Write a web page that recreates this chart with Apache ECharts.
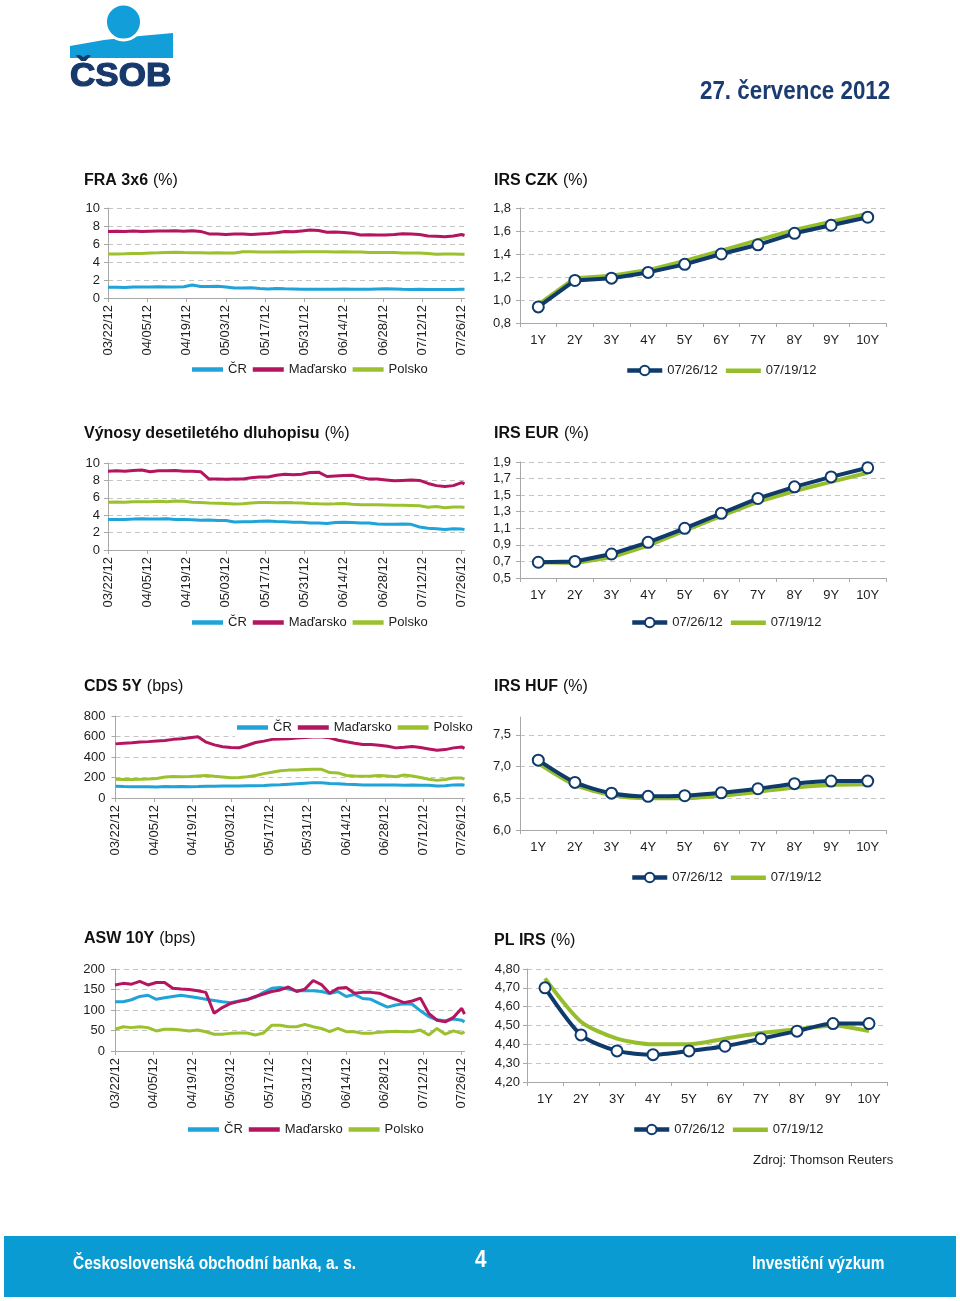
<!DOCTYPE html>
<html><head><meta charset="utf-8">
<script src="https://cdn.jsdelivr.net/npm/echarts@6/dist/echarts.min.js"></script>
<style>html,body{margin:0;padding:0;background:#fff}#c{width:960px;height:1301px}</style>
</head><body><div id="c"></div>
<script>
// ---------- DATA ----------
const dates = ['03/22/12','03/25/12','03/28/12','03/31/12','04/03/12','04/06/12','04/09/12','04/12/12','04/15/12','04/18/12','04/21/12','04/24/12','04/27/12','04/30/12','05/03/12','05/06/12','05/09/12','05/12/12','05/15/12','05/18/12','05/21/12','05/24/12','05/27/12','05/30/12','06/02/12','06/05/12','06/08/12','06/11/12','06/14/12','06/17/12','06/20/12','06/23/12','06/26/12','06/29/12','07/02/12','07/05/12','07/08/12','07/11/12','07/14/12','07/17/12','07/20/12','07/23/12','07/26/12','07/27/12'];
const tickLabels = ['03/22/12','04/05/12','04/19/12','05/03/12','05/17/12','05/31/12','06/14/12','06/28/12','07/12/12','07/26/12'];
const countryNames = ['ČR','Maďarsko','Polsko'];

const fraCR = [1.2,1.2,1.18,1.22,1.22,1.22,1.25,1.22,1.22,1.25,1.45,1.28,1.28,1.3,1.22,1.1,1.12,1.15,1.05,1.0,1.05,1.02,1.0,0.98,0.97,0.96,0.96,0.97,1.0,0.98,0.98,0.98,1.0,1.02,1.0,0.96,0.95,0.96,0.95,0.95,0.95,0.95,0.96,0.96];
const fraHU = [7.4,7.42,7.38,7.45,7.38,7.42,7.45,7.45,7.48,7.42,7.48,7.4,7.12,7.1,7.05,7.1,7.12,7.05,7.12,7.18,7.25,7.4,7.35,7.45,7.55,7.5,7.3,7.32,7.28,7.2,7.0,7.02,7.0,7.0,7.05,7.15,7.12,7.05,6.88,6.85,6.8,6.88,7.05,6.95];
const fraPL = [4.9,4.9,4.92,4.95,4.95,5.0,5.02,5.05,5.08,5.05,5.03,5.02,5.0,5.02,5.0,5.0,5.15,5.15,5.12,5.1,5.12,5.15,5.12,5.15,5.15,5.15,5.15,5.12,5.15,5.1,5.1,5.05,5.05,5.05,5.05,5.0,5.0,5.0,4.95,4.85,4.88,4.88,4.85,4.85];

const bondCR = [3.5,3.5,3.52,3.55,3.6,3.55,3.55,3.58,3.5,3.5,3.48,3.42,3.45,3.4,3.38,3.22,3.25,3.25,3.3,3.32,3.28,3.25,3.2,3.2,3.1,3.1,3.05,3.15,3.2,3.15,3.1,3.1,3.0,2.95,2.95,3.0,2.95,2.65,2.5,2.45,2.35,2.45,2.4,2.35];
const bondHU = [9.05,9.1,9.05,9.15,9.2,9.0,9.1,9.1,9.15,9.05,9.05,9.0,8.15,8.15,8.12,8.15,8.15,8.3,8.4,8.4,8.6,8.7,8.65,8.7,8.9,8.95,8.45,8.5,8.55,8.6,8.35,8.15,8.15,8.05,7.95,8.0,8.05,8.0,7.65,7.4,7.3,7.4,7.75,7.6];
const bondPL = [5.5,5.52,5.5,5.55,5.55,5.55,5.6,5.55,5.62,5.6,5.5,5.45,5.4,5.38,5.35,5.3,5.32,5.4,5.45,5.45,5.42,5.45,5.42,5.4,5.35,5.32,5.3,5.32,5.35,5.25,5.2,5.2,5.2,5.18,5.15,5.15,5.12,5.08,4.92,5.0,4.85,4.95,4.95,4.9];

const cdsCR = [115,112,110,110,110,108,112,110,112,110,112,115,115,117,118,118,120,120,122,128,130,135,140,145,150,148,142,140,135,132,128,128,128,128,128,125,128,125,125,118,120,128,130,125];
const cdsHU = [528,535,540,547,550,557,562,572,578,588,598,545,518,500,492,490,515,541,555,572,575,578,585,590,595,595,588,564,548,534,521,521,515,505,489,495,502,492,479,466,472,489,498,485];
const cdsPL = [184,180,180,182,185,190,205,210,208,210,215,220,212,205,197,200,207,220,238,252,265,272,272,277,280,280,248,245,220,215,213,215,220,215,207,225,215,200,183,172,180,196,195,183];

const aswCR = [120,120,125,133,136,126,130,133,136,133,130,126,123,120,118,122,126,131,143,153,155,151,147,147,147,145,140,145,133,138,128,126,116,107,112,115,114,98,84,76,74,78,75,71];
const aswHU = [161,165,163,170,161,167,167,153,151,150,147,143,92,106,116,121,125,133,139,145,149,156,145,151,172,162,141,153,155,141,143,143,141,133,126,118,122,129,92,75,71,82,104,90];
const aswPL = [53,59,57,59,57,49,53,53,51,49,51,47,41,41,43,44,44,39,44,63,63,59,59,65,59,55,47,55,47,47,43,43,46,47,48,47,47,51,39,55,41,49,43,47];

const tenors = ['1Y','2Y','3Y','4Y','5Y','6Y','7Y','8Y','9Y','10Y'];
const curveNames = ['07/26/12','07/19/12'];
const czk0726 = [0.94,1.17,1.19,1.24,1.31,1.40,1.48,1.58,1.65,1.72];
const czk0719 = [0.96,1.19,1.21,1.26,1.34,1.43,1.52,1.61,1.68,1.75];
const eur0726 = [0.69,0.70,0.79,0.93,1.10,1.28,1.46,1.60,1.72,1.83];
const eur0719 = [0.69,0.68,0.75,0.89,1.07,1.25,1.42,1.55,1.66,1.77];
const huf0726 = [7.10,6.75,6.58,6.53,6.54,6.585,6.65,6.73,6.77,6.77];
const huf0719 = [7.05,6.71,6.55,6.50,6.50,6.54,6.60,6.67,6.71,6.72];
const pl0726 = [4.70,4.45,4.365,4.345,4.365,4.39,4.43,4.47,4.51,4.51];
const pl0719 = [4.75,4.52,4.43,4.40,4.40,4.43,4.46,4.48,4.50,4.47];

// ---------- STYLE ----------
const FONT = "'Liberation Sans', Arial, sans-serif";
const TXT = '#1e1e1e';
const AXIS = '#a8a8a8';
const GRIDC = '#c4c4c4';
const C_CR = '#1fa3d8', C_HU = '#b3155f', C_PL = '#9cc12e';
const NAVY = '#0f3a6c', GREEN = '#96be2c';
const CYAN = '#129ed8', LOGO_NAVY = '#17396c';
const GREEN_BAR = 'path://M0,0L0.01,0L0.01,12L0,12Z M0,4L35,4L35,8.5L0,8.5Z';

function dayOf(s){const p=s.split('/').map(Number);return Math.round((Date.UTC(2000+p[2],p[0]-1,p[1])-Date.UTC(2012,2,22))/86400000);}
function pairs(arr){return dates.map((s,i)=>[dayOf(s),arr[i]]);}
function comma(dec){return v=>v.toFixed(dec).replace('.',',');}

const grids = [
  {left:108, top:208, width:356.5, height:90},
  {left:520, top:208, width:366, height:115},
  {left:108, top:463, width:356.5, height:87},
  {left:520, top:462, width:366, height:116},
  {left:115.5, top:716, width:349, height:82},
  {left:520, top:717, width:366, height:113},
  {left:115, top:969, width:349.5, height:82},
  {left:527, top:969, width:360, height:113}
].map(g=>Object.assign({outerBoundsMode:'none', containLabel:false}, g));

const lbl = {fontSize:13, color:TXT, fontFamily:FONT};
function xTime(gi){
  return {type:'value', gridIndex:gi, min:0, max:127, interval:14,
    axisLine:{show:true, lineStyle:{color:AXIS}}, axisTick:{show:true, length:4, lineStyle:{color:AXIS}},
    splitLine:{show:false},
    axisLabel:Object.assign({rotate:90, margin:7, showMaxLabel:false, showMinLabel:true,
      formatter:v=>{const k=v/14;return (Number.isInteger(k)&&k<tickLabels.length)?tickLabels[k]:'';}}, lbl)};
}
function xCat(gi){
  return {type:'category', gridIndex:gi, data:tenors, boundaryGap:true,
    axisLine:{show:true, lineStyle:{color:AXIS}}, axisTick:{show:true, length:4, alignWithLabel:false, lineStyle:{color:AXIS}},
    splitLine:{show:false}, axisLabel:Object.assign({margin:11, interval:0}, lbl)};
}
function yVal(gi, min, max, interval, fmt, margin, hideMax){
  return {type:'value', gridIndex:gi, min, max, interval,
    axisLine:{show:true, lineStyle:{color:AXIS}}, axisTick:{show:true, length:4, lineStyle:{color:AXIS}},
    splitLine:{show:true, showMinLine:false, showMaxLine: !hideMax, lineStyle:{color:GRIDC, type:[5,4], width:1}},
    axisLabel:Object.assign({margin:margin, formatter:fmt, showMaxLabel: !hideMax}, lbl)};
}

function timeSeries(gi, cr, hu, pl){
  return [[cr,C_CR],[hu,C_HU],[pl,C_PL]].map((d,k)=>({
    type:'line', name:countryNames[k], xAxisIndex:gi, yAxisIndex:gi, data:pairs(d[0]),
    symbol:'none', showSymbol:false, silent:true, animation:false,
    lineStyle:{width:3, color:d[1]}, itemStyle:{color:d[1]}, z:2+k*0.1
  }));
}
function curveSeries(gi, a, b, smooth){
  return [
    {type:'line', name:curveNames[1], xAxisIndex:gi, yAxisIndex:gi, data:b, smooth:smooth,
      symbol:'none', showSymbol:false, silent:true, lineStyle:{width:4, color:GREEN}, itemStyle:{color:GREEN}, z:2},
    {type:'line', name:curveNames[0], xAxisIndex:gi, yAxisIndex:gi, data:a, smooth:smooth,
      symbol:'circle', symbolSize:11, showSymbol:true, silent:true,
      lineStyle:{width:4, color:NAVY}, itemStyle:{color:'#fff', borderColor:NAVY, borderWidth:2}, z:3}
  ];
}

function mkTitle(x, cy, bold, normal){
  return {left:x, top:cy-9, padding:0, text:'{b|'+bold+'} {n|'+normal+'}',
    textStyle:{rich:{b:{fontSize:16, fontWeight:'bold', fontFamily:FONT, color:'#111', lineHeight:18},
                      n:{fontSize:16, fontWeight:'normal', fontFamily:FONT, color:'#111', lineHeight:18}}}};
}
function tLegend(x, cy, extra){
  return Object.assign({data:countryNames, left:x, top:cy-7, orient:'horizontal', selectedMode:false,
    icon:'rect', itemWidth:31, itemHeight:4.5, itemGap:6, padding:0,
    textStyle:{fontSize:13, color:TXT, fontFamily:FONT}}, extra||{});
}
function cLegend(x, cy){
  return {data:[{name:curveNames[0]}, {name:curveNames[1], icon:GREEN_BAR}], left:x, top:cy-7, orient:'horizontal', selectedMode:false,
    itemWidth:35, itemHeight:12, itemGap:8, padding:0, lineStyle:{width:4.5},
    textStyle:{fontSize:13, color:TXT, fontFamily:FONT}};
}

function gtext(x, y, text, font, fill, opts, extraStyle){
  return Object.assign({type:'text', x:x, y:y, silent:true,
    style:Object.assign({text:text, font:font, fill:fill, align:'left', verticalAlign:'middle', textAlign:'left', textVerticalAlign:'middle'}, extraStyle||{})}, opts||{});
}

const option = {
  animation:false,
  backgroundColor:'#fff',
  textStyle:{fontFamily:FONT},
  title:[
    mkTitle(84,181,'FRA 3x6','(%)'),
    mkTitle(494,181,'IRS CZK','(%)'),
    mkTitle(84,434,'Výnosy desetiletého dluhopisu','(%)'),
    mkTitle(494,434,'IRS EUR','(%)'),
    mkTitle(84,687,'CDS 5Y','(bps)'),
    mkTitle(494,687,'IRS HUF','(%)'),
    mkTitle(84,939,'ASW 10Y','(bps)'),
    mkTitle(494,941,'PL IRS','(%)')
  ],
  grid:grids,
  xAxis:[xTime(0), xCat(1), xTime(2), xCat(3), xTime(4), xCat(5), xTime(6), xCat(7)],
  yAxis:[
    yVal(0,0,10,2,v=>String(v),8),
    yVal(1,0.8,1.8,0.2,comma(1),9),
    yVal(2,0,10,2,v=>String(v),8),
    yVal(3,0.5,1.9,0.2,comma(1),9),
    yVal(4,0,800,200,v=>String(v),10),
    yVal(5,6.0,7.78,0.5,v=>(Math.abs(v*2-Math.round(v*2))<1e-6?v.toFixed(1).replace('.',','):''),9,true),
    yVal(6,0,200,50,v=>String(v),10),
    yVal(7,4.2,4.8,0.1,comma(2),7)
  ],
  legend:[
    tLegend(192,370),
    cLegend(625,371),
    tLegend(192,623),
    cLegend(630,623),
    tLegend(235,728,{backgroundColor:'#fff', padding:[3,2,4,2], top:718}),
    cLegend(630,878),
    tLegend(188,1130),
    cLegend(632,1130)
  ],
  series:[].concat(
    timeSeries(0,fraCR,fraHU,fraPL),
    curveSeries(1,czk0726,czk0719,false),
    timeSeries(2,bondCR,bondHU,bondPL),
    curveSeries(3,eur0726,eur0719,false),
    timeSeries(4,cdsCR,cdsHU,cdsPL),
    curveSeries(5,huf0726,huf0719,0.25),
    timeSeries(6,aswCR,aswHU,aswPL),
    curveSeries(7,pl0726,pl0719,0.25)
  ),
  graphic:[
    // logo
    {type:'polygon', silent:true, shape:{points:[[70,46],[104,40],[140,36],[173,33],[173,58],[70,58]]}, style:{fill:CYAN}},
    {type:'circle', silent:true, shape:{cx:123.5, cy:22, r:18}, style:{fill:CYAN, stroke:'#fff', lineWidth:3}},
    gtext(70,77,'ČSOB',"bold 34px 'Liberation Sans', Arial, sans-serif",LOGO_NAVY,{scaleX:1.03},{stroke:LOGO_NAVY, lineWidth:1.2}),
    // date header
    gtext(700,92,'27. července 2012',"bold 26px 'Liberation Sans', Arial, sans-serif",'#1b3c70',{scaleX:0.86}),
    // source
    gtext(753,1160,'Zdroj: Thomson Reuters',"13px 'Liberation Sans', Arial, sans-serif",TXT),
    // footer
    {type:'rect', silent:true, shape:{x:4, y:1236, width:952, height:61}, style:{fill:'#0b9bd3'}},
    gtext(73,1264,'Československá obchodní banka, a. s.',"bold 18px 'Liberation Sans', Arial, sans-serif",'#fff',{scaleX:0.86}),
    gtext(475,1260,'4',"bold 24px 'Liberation Sans', Arial, sans-serif",'#fff',{scaleX:0.86}),
    gtext(752,1264,'Investiční výzkum',"bold 18px 'Liberation Sans', Arial, sans-serif",'#fff',{scaleX:0.86})
  ]
};

const chart = echarts.init(document.getElementById('c'), null, {renderer:'canvas', width:960, height:1301});
chart.setOption(option);
</script></body></html>
